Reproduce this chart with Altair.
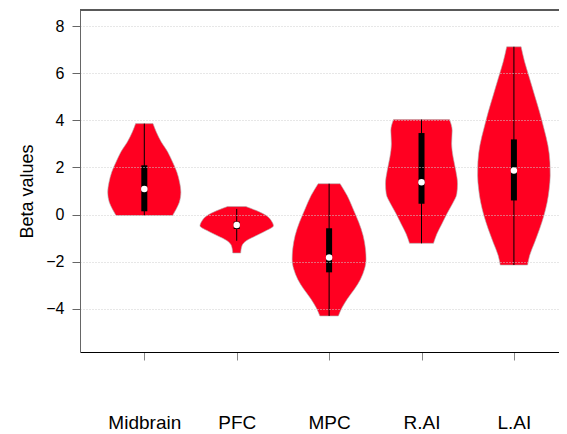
import json
import altair as alt
import pandas as pd

categories = ["Midbrain", "PFC", "MPC", "R.AI", "L.AI"]

# violin outlines: value levels and half-widths (in category units)
mid_v = [-0.04, 0.24, 0.52, 0.95, 1.37, 1.80, 2.23, 2.65, 3.08, 3.50, 3.86]
mid_w = [0.306, 0.346, 0.379, 0.396, 0.382, 0.353, 0.306, 0.255, 0.184, 0.130, 0.094]

pfc_v = [-1.63, -1.32, -1.11, -0.89, -0.68, -0.47, -0.33, -0.04, 0.17, 0.34]
pfc_w = [0.043, 0.057, 0.104, 0.213, 0.320, 0.398, 0.385, 0.320, 0.213, 0.100]

mpc_v = [-4.30, -3.94, -3.59, -3.16, -2.74, -2.31, -1.89, -1.46, -0.89, -0.33, 0.24, 0.81, 1.31]
mpc_w = [0.100, 0.141, 0.195, 0.275, 0.340, 0.383, 0.400, 0.394, 0.368, 0.321, 0.260, 0.195, 0.119]

rai_v = [-1.22, -0.82, -0.40, 0.03, 0.46, 0.88, 1.31, 1.87, 2.44, 3.01, 3.57, 4.03]
rai_w = [0.130, 0.166, 0.220, 0.274, 0.335, 0.382, 0.390, 0.371, 0.342, 0.326, 0.332, 0.303]

lai_v = [-2.14, -1.74, -1.18, -0.61, -0.04, 0.52, 1.09, 1.66, 2.23, 2.94, 3.65, 4.35, 5.06, 5.77, 6.48, 7.12]
lai_w = [0.148, 0.170, 0.224, 0.278, 0.325, 0.360, 0.382, 0.393, 0.390, 0.368, 0.325, 0.278, 0.224, 0.170, 0.116, 0.078]

violin_values = [mid_v, pfc_v, mpc_v, rai_v, lai_v]
violin_widths = [mid_w, pfc_w, mpc_w, rai_w, lai_w]

# box plot statistics
q1 = [0.14, -0.61, -2.45, 0.46, 0.60]
q3 = [2.09, -0.30, -0.58, 3.46, 3.19]
median = [1.09, -0.44, -1.82, 1.37, 1.87]
whisker_lo = [-0.04, -1.11, -4.30, -1.22, -2.14]
whisker_hi = [3.86, 0.24, 1.31, 4.03, 7.12]

y_ticks = [-4, -2, 0, 2, 4, 6, 8]

rows = []
for i, cat in enumerate(categories):
    pos = i + 1
    for v, w in zip(violin_values[i], violin_widths[i]):
        rows.append({"cat": cat, "pos": pos, "v": v, "left": pos - w, "right": pos + w})
df_violin = pd.DataFrame(rows).sort_values(["cat", "v"])

df_box = pd.DataFrame({
    "cat": categories,
    "pos": list(range(1, len(categories) + 1)),
    "q1": q1, "q3": q3, "median": median,
    "lo": whisker_lo, "hi": whisker_hi,
})

FONT = "Liberation Sans"
RED = "#ff0021"

xscale = alt.Scale(domain=[0.304, 5.488], nice=False, zero=False)
yscale = alt.Scale(domain=[-5.83, 8.68], nice=False, zero=False)

label_expr = json.dumps(categories) + "[datum.value - 1]"

xaxis = alt.Axis(values=[1, 2, 3, 4, 5], labelExpr=label_expr, grid=False,
                 domainColor="black", tickColor="#888888", tickSize=8,
                 labelFontSize=19, labelPadding=53, labelColor="black",
                 labelFont=FONT, labelOverlap=False, labelFlush=False, title=None)

yaxis = alt.Axis(values=y_ticks, grid=True, gridColor="#cfcfcf", gridDash=[1, 2],
                 domainColor="#666666", tickColor="#666666", tickSize=8,
                 labelFontSize=16, labelPadding=8, labelColor="black", labelFont=FONT,
                 titleFontSize=18, titlePadding=9, titleFontWeight="normal",
                 titleFont=FONT, titleColor="black", titleY=181, zindex=1, format="d")

violin = alt.Chart(df_violin).mark_area(
    orient="horizontal", interpolate="monotone", color=RED,
    stroke="#b0b0b0", strokeWidth=0.6, opacity=1
).encode(
    y=alt.Y("v:Q", scale=yscale, axis=yaxis, title="Beta values"),
    x=alt.X("left:Q", scale=xscale, axis=xaxis),
    x2="right:Q",
    detail="cat:N",
)

whisker = alt.Chart(df_box).mark_rule(color="black", strokeWidth=1).encode(
    x=alt.X("pos:Q", scale=xscale),
    y=alt.Y("lo:Q", scale=yscale),
    y2="hi:Q",
)

box = alt.Chart(df_box).mark_rule(color="black", strokeWidth=6, strokeCap="butt").encode(
    x=alt.X("pos:Q", scale=xscale),
    y=alt.Y("q1:Q", scale=yscale),
    y2="q3:Q",
)

med = alt.Chart(df_box).mark_circle(color="white", size=42, opacity=1).encode(
    x=alt.X("pos:Q", scale=xscale),
    y=alt.Y("median:Q", scale=yscale),
)

top_line = alt.Chart(df_box).mark_rule(color="#555555", strokeWidth=1).encode(
    x=alt.value(0), x2=alt.value(479), y=alt.value(0)
)

chart = alt.layer(violin, whisker, box, med, top_line).properties(
    width=479, height=342,
    autosize=alt.AutoSizeParams(type="none"),
    padding={"left": 72, "top": 2, "right": 0, "bottom": 80},
).configure_view(stroke="transparent")

chart.save("out.html", embed_options={"renderer": "svg", "actions": False})
